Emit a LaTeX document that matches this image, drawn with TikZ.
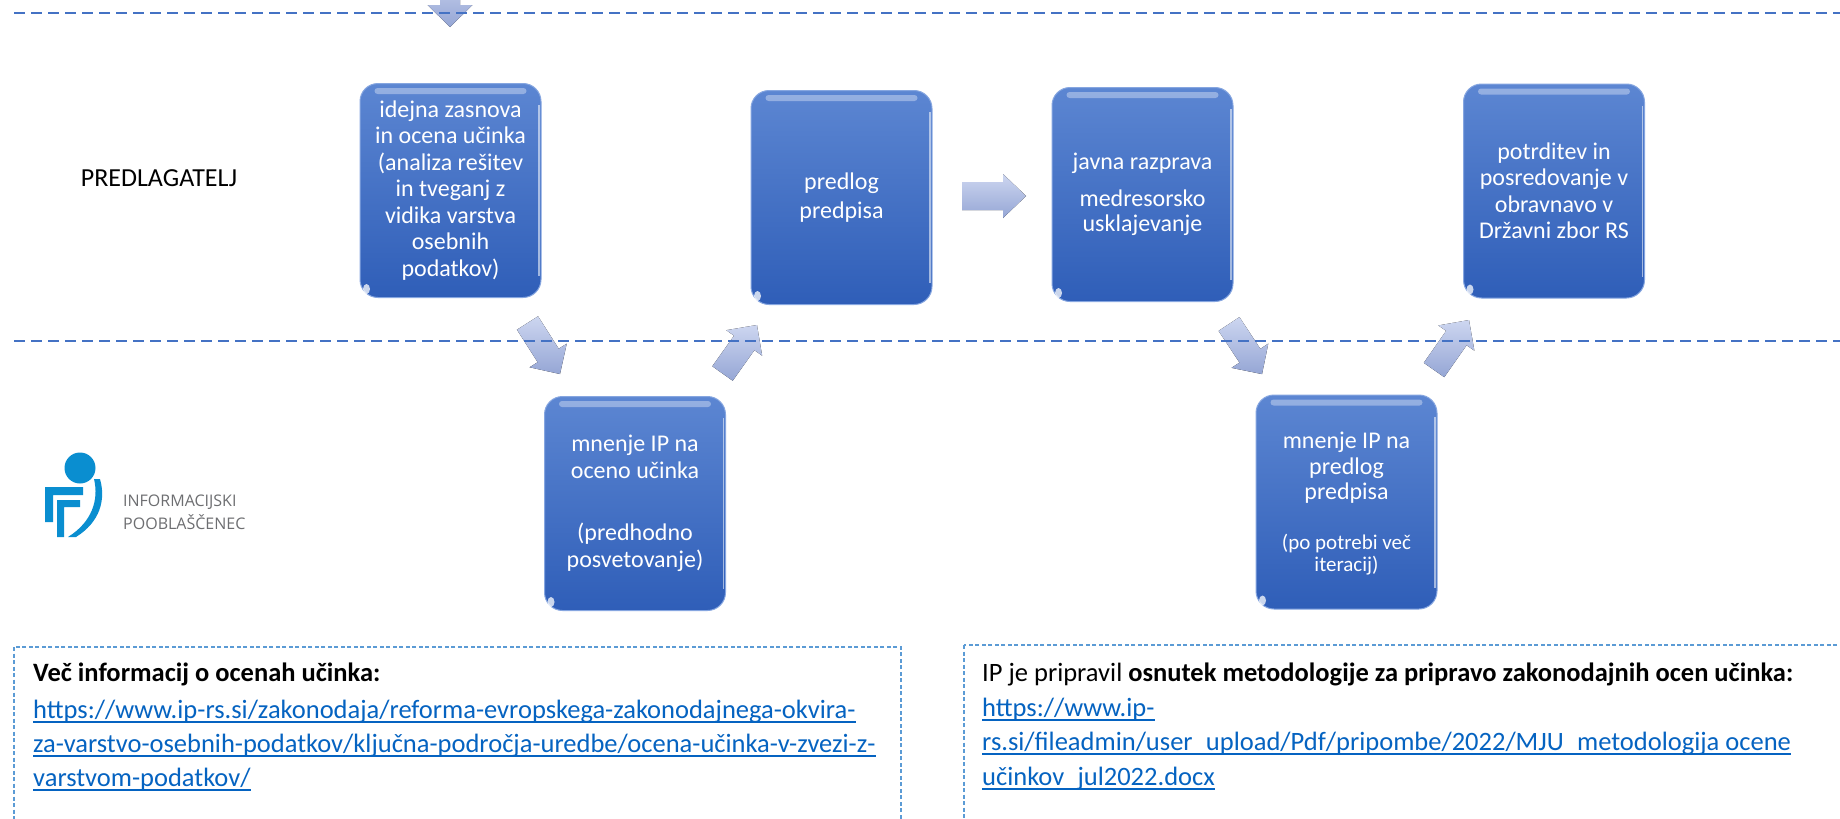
\documentclass[tikz,border=0pt]{standalone}
\usepackage{fontspec}
\setmainfont{Carlito}
\newfontfamily\logofont{Open Sans}
\definecolor{dashblue}{HTML}{4472C4}
\definecolor{boxtop}{HTML}{5C86D2}
\definecolor{boxbot}{HTML}{2F5EB8}
\definecolor{boxedge}{HTML}{86A6E0}
\definecolor{arrlight}{HTML}{CDD6F0}
\definecolor{arrdark}{HTML}{95A6D5}
\definecolor{linkblue}{HTML}{0563C1}
\definecolor{infoborder}{HTML}{5B9BD5}
\definecolor{logoblue}{HTML}{0A8ED0}
\definecolor{logogray}{HTML}{6D6E71}

\newcommand\myul[1]{\setbox0=\hbox{#1}\rlap{\rule[-4.6pt]{\wd0}{1.6pt}}\box0}
\newcommand\us{\raisebox{-1.6pt}{\_}}

% name, x, y, angle, length, stem half, head half, head length
\newcommand\blockarrow[8]{%
  \begin{scope}[shift={(#2,#3)},rotate=#4]
    \coordinate (#1) at (0,0);
    \fill[arrowshade] (0,-#6) -- ({#5-#8},-#6) -- ({#5-#8},-#7) -- (#5,0)
      -- ({#5-#8},#7) -- ({#5-#8},#6) -- (0,#6) -- cycle;
  \end{scope}}

% [extra], name, cx, cy, text
\newcommand\gbox[5][]{%
  \node[gboxstyle,#1] (#2) at (#3,#4) {#5};
  \fill[white,opacity=0.35,rounded corners=3pt]
    ([xshift=15pt,yshift=-5pt]#2.north west) rectangle ([xshift=-15pt,yshift=-11pt]#2.north east);
  \draw[white,opacity=0.55,line width=1.5pt]
    ([xshift=-2.5pt,yshift=-22pt]#2.north east) -- ([xshift=-2.5pt,yshift=22pt]#2.south east);
  \fill[white,opacity=0.75] ([xshift=7pt,yshift=9pt]#2.south west) ellipse[x radius=3.5pt, y radius=5pt];
}

\begin{document}
\begin{tikzpicture}[x=1pt,y=-1pt,
  gboxstyle/.style={rectangle, rounded corners=18pt, minimum width=181pt,
    minimum height=214pt, inner sep=0pt, draw=boxedge, line width=1pt,
    top color=boxtop, bottom color=boxbot, text=white, align=center,
    font=\fontsize{24}{26.5}\selectfont},
  arrowshade/.style={top color=arrlight, bottom color=arrdark},
  laneline/.style={draw=dashblue, line width=2.2pt, dash pattern=on 11pt off 6pt},
  infobox/.style={draw=infoborder, line width=1.3pt, dash pattern=on 4pt off 2.5pt},
  infotext/.style={anchor=base west, inner sep=0pt, font=\fontsize{26.5}{34}\selectfont},
  linktext/.style={infotext, text=linkblue},
  logotext/.style={anchor=base west, inner sep=0pt, text=logogray,
    font=\logofont\fontsize{16}{20}\selectfont}]
\useasboundingbox (0,0) rectangle (1840,819);
\fill[white] (0,0) rectangle (1840,819);

% block arrows
\blockarrow{a0}{450}{-30}{-90}{57}{10}{22.5}{22}
\blockarrow{a1}{527.5}{323}{-57.5}{60.5}{12.5}{22}{22}
\blockarrow{a2}{722.5}{373.5}{54.6}{59.5}{12.5}{22}{22}
\blockarrow{a3}{962}{196}{0}{64}{14}{22}{23}
\blockarrow{a4}{1229}{324}{-56.6}{60}{12.5}{22}{22}
\blockarrow{a5}{1434}{370}{55}{61}{12.5}{22}{22}

% lane separators
\coordinate (topL) at (14,13);
\coordinate (topR) at (1840,13);
\coordinate (midL) at (14,341);
\coordinate (midR) at (1840,341);
\draw[laneline] (topL) -- (topR);
\draw[laneline] (midL) -- (midR);

% lane labels
\node[anchor=base, inner sep=0pt, font=\fontsize{26}{30}\selectfont] (lane1) at (159,186.5) {PREDLAGATELJ};

% logo
\fill[logoblue] (80,468) circle[radius=15.5pt];
\fill[logoblue] (45,487) -- (83,487) -- (83,495) -- (53,495) -- (53,522) -- (45,522) -- cycle;
\fill[logoblue] (57,500) -- (80,500) -- (80,507) -- (64,507) -- (64,537) -- (57,537) -- cycle;
\fill[logoblue] (94,479) .. controls (99,500) and (92,522) .. (68,537)
  -- (76,537) .. controls (100,522) and (106,500) .. (100,479) -- cycle;
\node[logotext] (logo1) at (123,506) {INFORMACIJSKI};
\node[logotext] (logo2) at (123,529) {POOBLAŠČENEC};

% process boxes
\gbox{b1}{450.5}{190.5}{idejna zasnova\\in ocena učinka\\(analiza rešitev\\in tveganj z\\vidika varstva\\osebnih\\podatkov)}
\gbox[font=\fontsize{24}{29}\selectfont]{b2}{841.5}{197.5}{predlog\\predpisa}
\gbox[font=\fontsize{24}{25.5}\selectfont]{b3}{1142.5}{194.5}{javna razprava\\[11pt]medresorsko\\usklajevanje}
\gbox{b4}{1554}{191}{potrditev in\\posredovanje v\\obravnavo v\\Državni zbor RS}
\gbox{b5}{635}{503.5}{mnenje IP na\\oceno učinka\\[36pt](predhodno\\posvetovanje)}
\gbox{b6}{1346.5}{502}{}
\node[align=center, text=white, inner sep=0pt, font=\fontsize{24}{25.5}\selectfont] (b6t1) at (1346.5,468) {mnenje IP na\\predlog\\predpisa};
\node[align=center, text=white, inner sep=0pt, font=\fontsize{21}{22}\selectfont] (b6t2) at (1346.5,555) {(po potrebi več\\iteracij)};

% info boxes
\draw[infobox] (14,647) rectangle (901,845);
\draw[infobox] (964,645) rectangle (1870,845);

\node[infotext] (l0) at (33,681) {\textbf{Več informacij o ocenah učinka:}};
\node[linktext] (l1) at (33,718) {\myul{https://www.ip-rs.si/zakonodaja/reforma-evropskega-zakonodajnega-okvira-}};
\node[linktext] (l2) at (33,752) {\myul{za-varstvo-osebnih-podatkov/ključna-področja-uredbe/ocena-učinka-v-zvezi-z-}};
\node[linktext] (l3) at (33,786) {\myul{varstvom-podatkov/}};

\node[infotext] (r0) at (982,681) {IP je pripravil \textbf{osnutek metodologije za pripravo zakonodajnih ocen učinka:}};
\node[linktext] (r1) at (982,716) {\myul{https://www.ip-}};
\node[linktext] (r2) at (982,750) {\myul{rs.si/fileadmin/user\us upload/Pdf/pripombe/2022/MJU\us metodologija ocene}};
\node[linktext] (r3) at (982,785) {\myul{učinkov\us jul2022.docx}};
\end{tikzpicture}
\end{document}
